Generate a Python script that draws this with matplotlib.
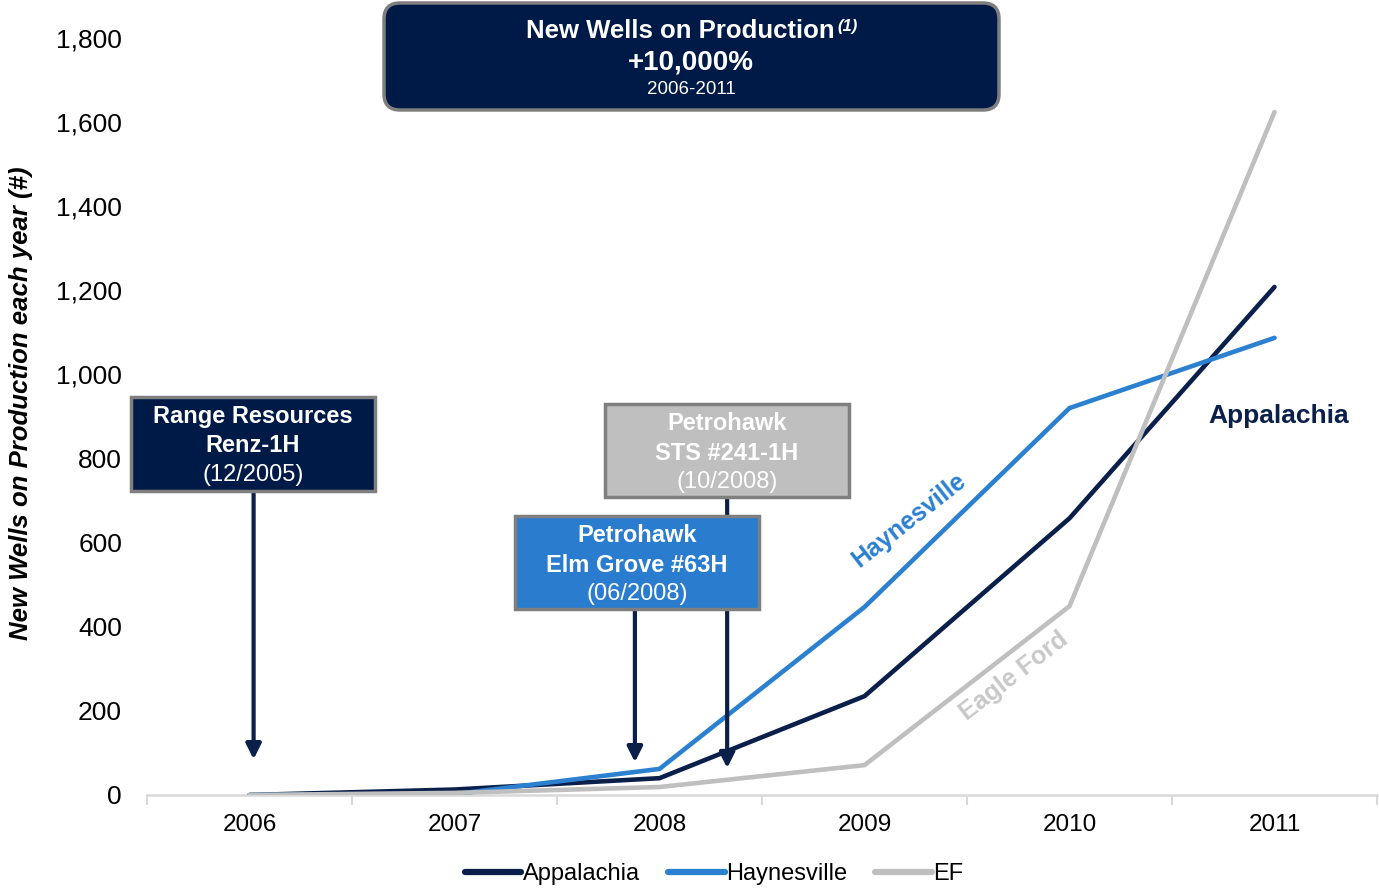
import matplotlib
matplotlib.use("Agg")
import matplotlib.pyplot as plt
from matplotlib.patches import Rectangle, FancyBboxPatch

plt.rcParams["font.family"] = ["Liberation Sans", "DejaVu Sans"]

# chart data
years = ["2006", "2007", "2008", "2009", "2010", "2011"]
appalachia = [0, 13, 40, 235, 658, 1208]
haynesville = [0, 2, 62, 447, 920, 1087]
eagle_ford = [0, 5, 19, 71, 449, 1624]

series_names = ["Appalachia", "Haynesville", "EF"]
colors = ["#0B1F4B", "#2B80D0", "#BFBFBF"]

# well annotations: (name lines, date, x position in years, arrow tip value)
wells = [
    ("Range Resources", "Renz-1H", "(12/2005)", 0.02, 85),
    ("Petrohawk", "Elm Grove #63H", "(06/2008)", 1.88, 78),
    ("Petrohawk", "STS #241-1H", "(10/2008)", 2.33, 64),
]

W, H = 1379, 890
fig = plt.figure(figsize=(W / 100, H / 100), dpi=100)
ax = fig.add_axes([147 / W, 1 - 795 / H, 1230 / W, (795 - 38) / H])


def px(x, y):
    """Pixel position (from top-left) to inches."""
    return x / 100, (H - y) / 100


x = list(range(len(years)))
for vals, name, c in zip([appalachia, haynesville, eagle_ford], series_names, colors):
    ax.plot(x, vals, color=c, lw=3.3, label=name, solid_capstyle="round",
            solid_joinstyle="miter", zorder=3)

ax.set_xlim(-0.5, len(years) - 0.5)
ax.set_ylim(0, 1800)
ax.set_yticks(range(0, 1801, 200))
ax.set_yticklabels([f"{v:,}" for v in range(0, 1801, 200)], fontsize=19)
ax.set_xticks(x)
ax.set_xticklabels(years, fontsize=17.5)
ax.set_xticks([i - 0.5 for i in range(len(years) + 1)], minor=True)
ax.tick_params(axis="x", which="major", length=0, pad=14)
ax.tick_params(axis="x", which="minor", length=7, width=1.5, color="#D9D9D9",
               direction="out")
ax.tick_params(axis="y", length=0, pad=18)
for s in ["top", "right", "left"]:
    ax.spines[s].set_visible(False)
ax.spines["bottom"].set_color("#D9D9D9")
ax.spines["bottom"].set_linewidth(1.8)
ax.set_ylabel("New Wells on Production each year (#)", fontsize=18.5,
              fontweight="bold", style="italic")
ax.yaxis.set_label_coords(-0.093, 0.518)

# inline series labels
ax.text(3.22, 654, "Haynesville", color=colors[1], fontsize=18,
        fontweight="bold", rotation=38, ha="center", va="center")
ax.text(3.73, 283, "Eagle Ford", color="#C8C8C8", fontsize=18,
        fontweight="bold", rotation=37.5, ha="center", va="center")
ax.text(5.02, 901, "Appalachia", color=colors[0], fontsize=19,
        fontweight="bold", ha="center", va="center")

# title box
x0, y0 = px(384, 110)
x1, y1 = px(999, 3)
tb = FancyBboxPatch((x0 + 0.12, y0 + 0.12), x1 - x0 - 0.24, y1 - y0 - 0.24,
                    boxstyle="round,pad=0.12,rounding_size=0.16",
                    transform=fig.dpi_scale_trans, facecolor="#001A47",
                    edgecolor="#7F7F7F", lw=2.5, zorder=5)
fig.patches.append(tb)
tkw = dict(transform=fig.dpi_scale_trans, color="white", zorder=6)
fig.text(*px(680, 31), "New Wells on Production", fontsize=18.5,
         fontweight="bold", ha="center", va="center", **tkw)
fig.text(*px(837, 27), "(1)", fontsize=12, fontweight="bold", style="italic",
         ha="left", va="center", **tkw)
fig.text(*px(691, 63), "+10,000%", fontsize=20, fontweight="bold",
         ha="center", va="center", **tkw)
fig.text(*px(691, 90), "2006-2011", fontsize=13.5, ha="center", va="center", **tkw)

# well annotation boxes
box_px = [(131, 397, 375, 491), (515, 516, 759, 609), (605, 404, 849, 497)]
box_fill = ["#001A47", "#2A7DCE", "#BFBFBF"]
for (l1, l2, date, xw, tip), (l, t, r, b), fc in zip(wells, box_px, box_fill):
    bx0, by0 = px(l, b)
    bx1, by1 = px(r, t)
    fig.patches.append(Rectangle((bx0, by0), bx1 - bx0, by1 - by0,
                                 transform=fig.dpi_scale_trans, facecolor=fc,
                                 edgecolor="#7F7F7F", lw=2.5, zorder=5))
    cx = (l + r) / 2
    fig.text(*px(cx, t + 20), l1, fontsize=17, fontweight="bold",
             ha="center", va="center", **tkw)
    fig.text(*px(cx, t + 49), l2, fontsize=17, fontweight="bold",
             ha="center", va="center", **tkw)
    fig.text(*px(cx, t + 78), date, fontsize=17, ha="center", va="center", **tkw)
    # arrow from box bottom down to the chart
    ytop = ax.transData.inverted().transform((0, (H - b) * 1.0))[1]
    ax.annotate("", xy=(xw, tip), xytext=(xw, ytop),
                arrowprops=dict(arrowstyle="-|>,head_length=0.9,head_width=0.45",
                                color="#0B1F4B", lw=3, shrinkA=0, shrinkB=0),
                zorder=4, annotation_clip=False)

leg = fig.legend(loc="center", bbox_to_anchor=(714 / W, 1 - 874 / H), ncol=3,
                 frameon=False, fontsize=17, handlelength=2.4,
                 handletextpad=0.05, columnspacing=1.2, borderaxespad=0,
                 borderpad=0)
for h in leg.get_lines():
    h.set_linewidth(4.5)

fig.savefig("out.png", dpi=100)
